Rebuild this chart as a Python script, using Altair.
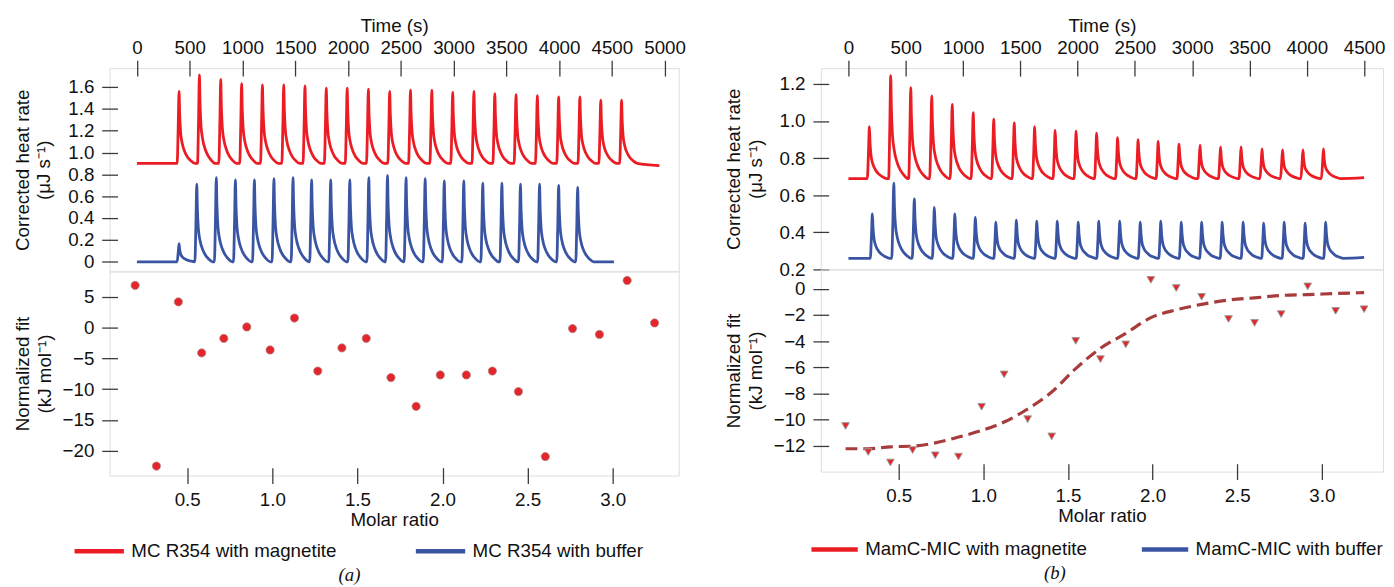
import altair as alt
import pandas as pd

FONT = "Liberation Sans"
RED = "#EC1C24"
BLUE = "#3A54A4"
PT_RED = "#E3262B"
FIT_COL = "#A83B3B"
FRAME = "#3a3a3a"

# ---------------- panel (a) : MC R354 ----------------
A_MAG_LABEL = "MC R354 with magnetite"
A_BUF_LABEL = "MC R354 with buffer"
A_MAG_BASE = 0.90
A_MAG_END = [4950, 0.88]
A_MAG_PEAK_T = [399, 592, 794, 992, 1189, 1391, 1592, 1794, 1992, 2193, 2395,
                2592, 2794, 2992, 3193, 3391, 3592, 3794, 3996, 4197, 4395, 4592]
A_MAG_PEAK_H = [1.56, 1.71, 1.67, 1.63, 1.62, 1.62, 1.61, 1.59, 1.59, 1.58, 1.56,
                1.57, 1.57, 1.55, 1.56, 1.54, 1.53, 1.52, 1.51, 1.51, 1.48, 1.48]
A_BUF_BASE = 0.0
A_BUF_END = [4520, 0.0]
A_BUF_PEAK_T = [399, 567, 752, 933, 1113, 1298, 1479, 1655, 1836, 2017, 2197,
                2374, 2550, 2731, 2912, 3097, 3277, 3458, 3634, 3815, 3996, 4176]
A_BUF_PEAK_H = [0.165, 0.71, 0.77, 0.75, 0.75, 0.76, 0.77, 0.75, 0.75, 0.75, 0.77,
                0.79, 0.77, 0.76, 0.74, 0.74, 0.72, 0.72, 0.71, 0.71, 0.70, 0.68]
A_RATIO = [0.194, 0.319, 0.448, 0.585, 0.715, 0.85, 0.987, 1.13, 1.267, 1.409, 1.552,
           1.697, 1.845, 1.987, 2.14, 2.293, 2.446, 2.604, 2.764, 2.922, 3.085, 3.246]
A_FIT = [6.85, -22.5, 4.17, -4.12, -1.76, 0.1, -3.64, 1.55, -7.06, -3.3, -1.76,
         -8.13, -12.8, -7.7, -7.7, -7.06, -10.4, -20.96, -0.16, -1.12, 7.65, 0.75]
A_TIME_TICKS = [0, 500, 1000, 1500, 2000, 2500, 3000, 3500, 4000, 4500, 5000]
A_HEAT_TICKS = [0, 0.2, 0.4, 0.6, 0.8, 1.0, 1.2, 1.4, 1.6]
A_FIT_TICKS = [-20, -15, -10, -5, 0, 5]

# ---------------- panel (b) : MamC-MIC ----------------
B_MAG_LABEL = "MamC-MIC with magnetite"
B_BUF_LABEL = "MamC-MIC with buffer"
B_MAG_BASE = 0.69
B_MAG_END = [4500, 0.695]
B_MAG_PEAK_T = [183, 369, 544, 727, 906, 1089, 1268, 1447, 1625, 1804, 1987, 2166,
                2349, 2528, 2703, 2885, 3068, 3247, 3426, 3609, 3788, 3966, 4145]
B_MAG_PEAK_H = [0.97, 1.245, 1.18, 1.135, 1.09, 1.045, 1.01, 0.99, 0.97, 0.95, 0.945, 0.935,
                0.91, 0.90, 0.89, 0.875, 0.87, 0.86, 0.86, 0.85, 0.845, 0.845, 0.85]
B_BUF_BASE = 0.26
B_BUF_END = [4500, 0.265]
B_BUF_PEAK_T = [209, 396, 575, 750, 929, 1108, 1287, 1466, 1644, 1823, 2006, 2185,
                2368, 2547, 2726, 2905, 3083, 3262, 3445, 3624, 3803, 3986, 4165]
B_BUF_PEAK_H = [0.50, 0.665, 0.58, 0.535, 0.50, 0.48, 0.455, 0.465, 0.46, 0.46, 0.455, 0.46,
                0.46, 0.455, 0.46, 0.455, 0.455, 0.455, 0.455, 0.45, 0.455, 0.45, 0.455]
B_RATIO = [0.186, 0.32, 0.451, 0.582, 0.716, 0.853, 0.99, 1.123, 1.262, 1.404, 1.546,
           1.692, 1.842, 1.99, 2.14, 2.29, 2.449, 2.603, 2.76, 2.917, 3.082, 3.25]
B_FIT = [-10.5, -12.5, -13.3, -12.35, -12.75, -12.85, -9.03, -6.55, -9.98, -11.3, -3.98,
         -5.38, -4.25, 0.7, 0.07, -0.6, -2.3, -2.6, -1.93, 0.2, -1.68, -1.55]
B_CURVE = [-12.25, -12.25, -12.1, -12.05, -11.8, -11.35, -10.85, -10.2, -9.2, -7.9, -6.1,
           -4.55, -3.4, -2.2, -1.6, -1.18, -0.85, -0.68, -0.5, -0.43, -0.35, -0.28]
B_TIME_TICKS = [0, 500, 1000, 1500, 2000, 2500, 3000, 3500, 4000, 4500]
B_HEAT_TICKS = [0.2, 0.4, 0.6, 0.8, 1.0, 1.2]
B_FIT_TICKS = [-12, -10, -8, -6, -4, -2, 0]

RATIO_TICKS = [0.5, 1.0, 1.5, 2.0, 2.5, 3.0]

# shape of one injection peak (time offset s, fraction of height)
PEAK_DT = [-18, -8, 0, 6, 15, 30, 55, 80, 110, 150]
PEAK_FRAC = [0, 0.5, 1.0, 0.68, 0.43, 0.28, 0.16, 0.09, 0.04, 0]


def trace(label, base, end, peak_t, peak_h):
    rows = [(0, base)]
    for tp, h in zip(peak_t, peak_h):
        for dt, f in zip(PEAK_DT, PEAK_FRAC):
            rows.append((tp + dt, base + f * (h - base)))
    rows.append((end[0], end[1]))
    return pd.DataFrame({"t": [r[0] for r in rows], "v": [r[1] for r in rows],
                         "series": label, "i": list(range(len(rows)))})


TICK = dict(tickSize=16, offset=-8, domain=False, grid=False, tickColor=FRAME,
            tickWidth=1.3, labelFontSize=19, titleFontSize=19, labelFont=FONT,
            titleFont=FONT, titleFontWeight="normal", labelColor="#111",
            titleColor="#111", titleLineHeight=22)


def panel(mag_label, buf_label, mag, buf, ratio, fit, curve, width, h_top, h_bot,
          t_dom, t_ticks, heat_dom, heat_ticks, fit_dom, fit_ticks, r_dom,
          legend_x, legend_dy, sym_len, col_pad, caption, triangles):
    df = pd.concat([trace(mag_label, *mag), trace(buf_label, *buf)])
    top = alt.Chart(df).mark_line(strokeWidth=2.8, interpolate="monotone").encode(
        x=alt.X("t:Q", scale=alt.Scale(domain=t_dom, nice=False, zero=False),
                axis=alt.Axis(orient="top", values=t_ticks, format="d", title="Time (s)",
                              labelPadding=3, titlePadding=3, **TICK)),
        y=alt.Y("v:Q", scale=alt.Scale(domain=heat_dom, nice=False, zero=False),
                axis=alt.Axis(values=heat_ticks,
                              labelExpr="datum.value == 0 ? '0' : format(datum.value, '.1f')",
                              title=["Corrected heat rate", "(μJ s⁻¹)"],
                              labelPadding=8, titlePadding=14, **TICK)),
        color=alt.Color("series:N",
                        scale=alt.Scale(domain=[mag_label, buf_label], range=[RED, BLUE]),
                        legend=alt.Legend(orient="none", legendX=legend_x,
                                          legendY=h_top + h_bot + legend_dy,
                                          direction="horizontal", title=None,
                                          symbolType="stroke", symbolSize=sym_len ** 2,
                                          symbolStrokeWidth=4.5, labelFontSize=19,
                                          labelFont=FONT, labelColor="#111", labelLimit=500,
                                          labelOffset=5, columnPadding=col_pad, padding=0)),
        detail="series:N",
        order="i:Q",
    ).properties(width=width, height=h_top)

    fdf = pd.DataFrame({"r": ratio, "f": fit})
    xenc = alt.X("r:Q", scale=alt.Scale(domain=r_dom, nice=False, zero=False),
                 axis=alt.Axis(orient="bottom", values=RATIO_TICKS, format=".1f",
                               title="Molar ratio", labelPadding=7, titlePadding=2, **TICK))
    yenc = alt.Y("f:Q", scale=alt.Scale(domain=fit_dom, nice=False, zero=False),
                 axis=alt.Axis(values=fit_ticks, format="d",
                               title=["Normalized fit", "(kJ mol⁻¹)"],
                               labelPadding=8, titlePadding=8, **TICK))
    if triangles:
        cdf = pd.DataFrame({"r": ratio, "f": curve})
        line = alt.Chart(cdf).mark_line(color=FIT_COL, strokeWidth=3.2, strokeDash=[12, 6],
                                        interpolate="monotone").encode(x=xenc, y=yenc)
        pts = alt.Chart(fdf).mark_point(shape="triangle-down", filled=True, size=60,
                                        fill=PT_RED, stroke="#9a9a9a", strokeWidth=1,
                                        opacity=1).encode(x=xenc, y=yenc)
        bot = alt.layer(line, pts)
    else:
        bot = alt.Chart(fdf).mark_point(shape="circle", filled=True, size=70, fill=PT_RED,
                                        stroke="#b08080", strokeWidth=0.7,
                                        opacity=1).encode(x=xenc, y=yenc)
    bot = bot.properties(width=width, height=h_bot)

    return alt.vconcat(top, bot, spacing=0, bounds="flush",
                       title=alt.TitleParams(caption, orient="bottom", anchor="middle",
                                             font="Liberation Serif", fontStyle="italic",
                                             fontWeight="normal", fontSize=19, color="#111",
                                             offset=4)
                       ).resolve_scale(x="independent", y="independent", color="independent")


pa = panel(A_MAG_LABEL, A_BUF_LABEL,
           (A_MAG_BASE, A_MAG_END, A_MAG_PEAK_T, A_MAG_PEAK_H),
           (A_BUF_BASE, A_BUF_END, A_BUF_PEAK_T, A_BUF_PEAK_H),
           A_RATIO, A_FIT, None, 577, 206, 207,
           [-259, 5134], A_TIME_TICKS, [-0.088, 1.772], A_HEAT_TICKS,
           [-24.04, 9.13], A_FIT_TICKS, [0.044, 3.388], -38, 49, 50, 70, "(a)", False)

pb = panel(B_MAG_LABEL, B_BUF_LABEL,
           (B_MAG_BASE, B_MAG_END, B_MAG_PEAK_T, B_MAG_PEAK_H),
           (B_BUF_BASE, B_BUF_END, B_BUF_PEAK_T, B_BUF_PEAK_H),
           B_RATIO, B_FIT, B_CURVE, 570, 204, 205,
           [-241, 4665], B_TIME_TICKS, [0.2, 1.285], B_HEAT_TICKS,
           [-14.0, 1.5], B_FIT_TICKS, [0.0396, 3.362], -12, 53, 47, 46, "(b)", True)

chart = alt.hconcat(pa, pb, spacing=38).resolve_scale(color="independent").resolve_legend(
    color="independent"
).properties(padding={"left": 5, "top": 4, "right": 0, "bottom": 0}).configure_view(
    stroke=FRAME, strokeWidth=1.5
).configure(background="white")

chart.save("out.html", embed_options={"renderer": "svg", "actions": False})
